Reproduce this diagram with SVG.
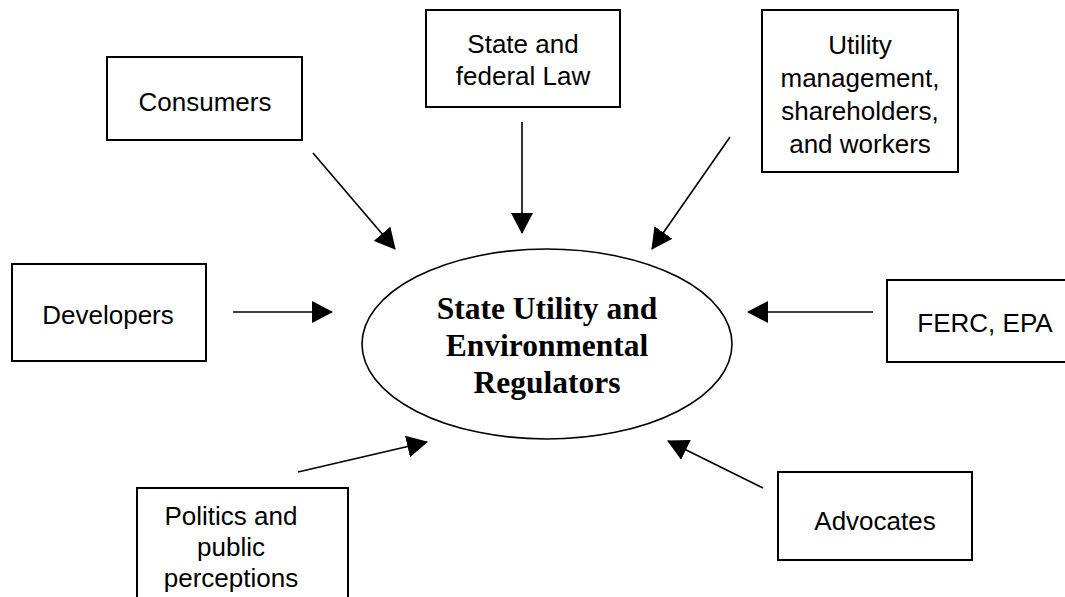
<svg xmlns="http://www.w3.org/2000/svg" width="1065" height="597" viewBox="0 0 1065 597">
<style>
.box{fill:#fff;stroke:#000;stroke-width:2}
.t{font-family:"Liberation Sans",Arial,sans-serif;font-size:26px;fill:#000;text-anchor:middle}
.c{font-family:"Liberation Serif","Times New Roman",serif;font-size:31.5px;font-weight:bold;fill:#000;text-anchor:middle}
.a{stroke:#000;stroke-width:1.6;fill:none;marker-end:url(#ah)}
</style>
<defs>
<marker id="ah" markerUnits="userSpaceOnUse" markerWidth="22" markerHeight="22" refX="20" refY="11" orient="auto">
<path d="M0,0 L21,11 L0,22 Z" fill="#000"/>
</marker>
</defs>
<rect width="1065" height="597" fill="#fff"/>
<g id="center">
<ellipse cx="547" cy="344" rx="185" ry="95" fill="#fff" stroke="#000" stroke-width="1.6"/>
<text class="c" x="547" y="319">State Utility and</text>
<text class="c" x="547" y="356">Environmental</text>
<text class="c" x="547" y="393">Regulators</text>
</g>
<g id="consumers">
<rect class="box" x="107" y="57" width="195" height="83"/>
<text class="t" x="205" y="111">Consumers</text>
</g>
<g id="law">
<rect class="box" x="426" y="10" width="194" height="97"/>
<text class="t" x="523" y="53">State and</text>
<text class="t" x="523" y="85">federal Law</text>
</g>
<g id="utility">
<rect class="box" x="762" y="10" width="196" height="162"/>
<text class="t" x="860" y="54">Utility</text>
<text class="t" x="860" y="87">management,</text>
<text class="t" x="860" y="120">shareholders,</text>
<text class="t" x="860" y="153">and workers</text>
</g>
<g id="developers">
<rect class="box" x="12" y="264" width="194" height="97"/>
<text class="t" x="108" y="324">Developers</text>
</g>
<g id="ferc">
<rect class="box" x="887" y="280" width="196" height="82"/>
<text class="t" x="985" y="332">FERC, EPA</text>
</g>
<g id="politics">
<rect class="box" x="137" y="488" width="211" height="120"/>
<text class="t" x="231" y="525">Politics and</text>
<text class="t" x="231" y="556">public</text>
<text class="t" x="231" y="587">perceptions</text>
</g>
<g id="advocates">
<rect class="box" x="778" y="472" width="194" height="88"/>
<text class="t" x="875" y="530">Advocates</text>
</g>
<g id="connectors">
<line class="a" x1="313" y1="153" x2="395" y2="249"/>
<line class="a" x1="522" y1="122" x2="522" y2="233"/>
<line class="a" x1="730" y1="137" x2="652" y2="249"/>
<line class="a" x1="233" y1="312" x2="332" y2="312"/>
<line class="a" x1="873" y1="312" x2="748" y2="312"/>
<line class="a" x1="298" y1="472" x2="427" y2="442"/>
<line class="a" x1="763" y1="488" x2="668" y2="441"/>
</g>
</svg>
